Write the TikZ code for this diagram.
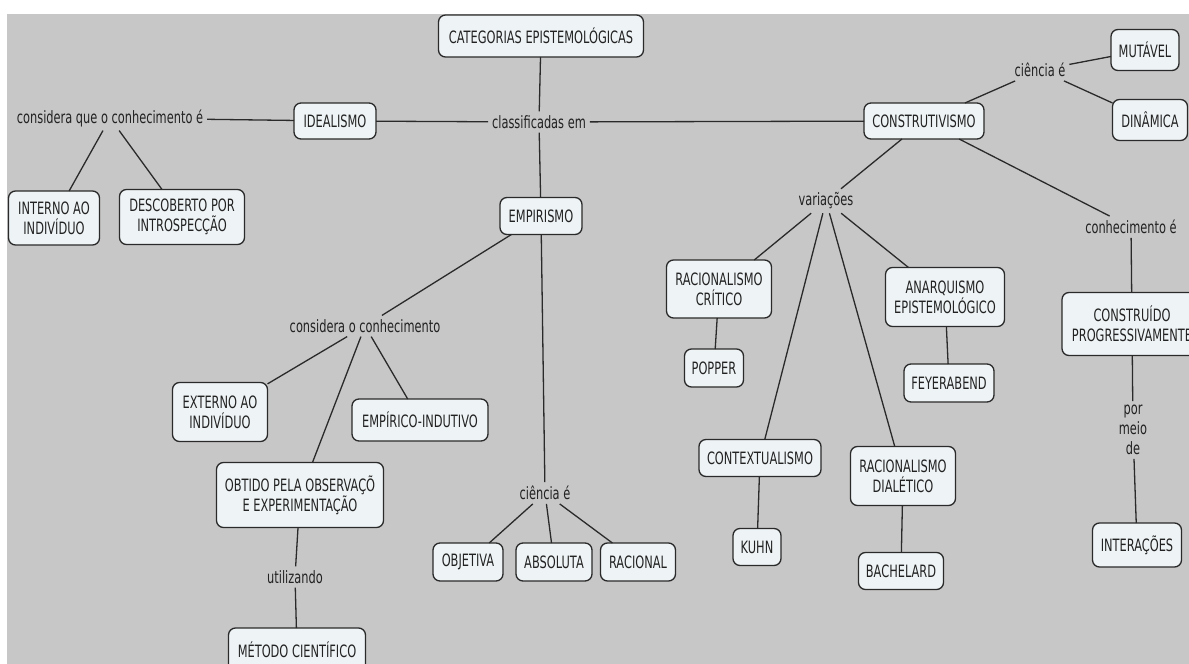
\documentclass[tikz,border=0pt]{standalone}
\usepackage{fontspec}
\setmainfont{DejaVu Sans}[FakeStretch=0.67]
\definecolor{bgray}{HTML}{C7C7C7}
\definecolor{boxfill}{HTML}{EEF3F5}
\definecolor{linecol}{HTML}{2A2A2A}
\definecolor{textcol}{HTML}{222222}
\newcommand\mapfont{\fontsize{17}{20}\selectfont}
\begin{document}
\begin{tikzpicture}[x=1pt,y=-1pt,
  concept/.style={draw=linecol, line width=1.3pt, fill=boxfill, rounded corners=7pt,
    align=center, inner sep=0pt, outer sep=0pt, font=\mapfont, text=textcol},
  phrase/.style={align=center, inner sep=2pt, outer sep=2pt, font=\mapfont, text=textcol},
  link/.style={draw=linecol, line width=1.3pt}]
\useasboundingbox (0,0) rectangle (1189,664);
\clip (0,0) rectangle (1189,664);
\fill[bgray] (7,14) rectangle (1189,664);

% top level
\node[concept, minimum width=205, minimum height=42] (cat) at (541,36) {CATEGORIAS EPISTEMOLÓGICAS};
\node[phrase] (classif) at (539,122) {classificadas em};
\node[concept, minimum width=82, minimum height=36] (ideal) at (335,121) {IDEALISMO};
\node[concept, minimum width=82, minimum height=37] (empir) at (541,216) {EMPIRISMO};
\node[concept, minimum width=120, minimum height=36] (constr) at (924,121) {CONSTRUTIVISMO};

% idealismo branch
\node[phrase] (consq) at (110,118) {considera que o conhecimento é};
\node[concept, minimum width=91, minimum height=54] (interno) at (54,218) {INTERNO AO\\INDIVÍDUO};
\node[concept, minimum width=125, minimum height=55] (descob) at (182,217) {DESCOBERTO POR\\INTROSPECÇÃO};

% empirismo branch
\node[phrase] (consconh) at (365,326) {considera o conhecimento};
\node[concept, minimum width=95, minimum height=59] (externo) at (220,412) {EXTERNO AO\\INDIVÍDUO};
\node[concept, minimum width=136, minimum height=42] (empind) at (420,420) {EMPÍRICO-INDUTIVO};
\node[concept, minimum width=167, minimum height=65] (obtido) at (300,495) {OBTIDO PELA OBSERVAÇÕ\\E EXPERIMENTAÇÃO};
\node[phrase] (utiliz) at (295,577) {utilizando};
\node[concept, minimum width=137, minimum height=44] (metodo) at (297,650) {MÉTODO CIENTÍFICO};
\node[phrase] (cienc2) at (545,493) {ciência é};
\node[concept, minimum width=70, minimum height=38] (objetiva) at (468,562) {OBJETIVA};
\node[concept, minimum width=76, minimum height=38] (absoluta) at (554,562) {ABSOLUTA};
\node[concept, minimum width=75, minimum height=38] (racional) at (638,562) {RACIONAL};

% construtivismo branch
\node[phrase] (cienc1) at (1040,70) {ciência é};
\node[concept, minimum width=68, minimum height=41] (mutavel) at (1145,50) {MUTÁVEL};
\node[concept, minimum width=75, minimum height=41] (dinamica) at (1150,120) {DINÂMICA};
\node[phrase] (variac) at (826,201) {variações};
\node[concept, minimum width=105, minimum height=58] (raccrit) at (719,289) {RACIONALISMO\\CRÍTICO};
\node[concept, minimum width=59, minimum height=38] (popper) at (714,368) {POPPER};
\node[concept, minimum width=122, minimum height=37] (context) at (760,458) {CONTEXTUALISMO};
\node[concept, minimum width=48, minimum height=37] (kuhn) at (757,547) {KUHN};
\node[concept, minimum width=119, minimum height=59] (anarq) at (945,297) {ANARQUISMO\\EPISTEMOLÓGICO};
\node[concept, minimum width=90, minimum height=38] (feyer) at (949,383) {FEYERABEND};
\node[concept, minimum width=105, minimum height=59] (racdial) at (903,476) {RACIONALISMO\\DIALÉTICO};
\node[concept, minimum width=85, minimum height=37] (bachel) at (901,571) {BACHELARD};
\node[phrase] (conhec) at (1131,227) {conhecimento é};
\node[concept, minimum width=140, minimum height=63] (construido) at (1132,324) {CONSTRUÍDO\\PROGRESSIVAMENTE};
\node[phrase] (pormeio) at (1133,430) {por\\meio\\de};
\node[concept, minimum width=89, minimum height=44] (interacoes) at (1137,545) {INTERAÇÕES};

% connectors
\draw[link] (cat) -- (classif);
\draw[link] (classif) -- (empir);
\draw[link] (ideal) -- (classif);
\draw[link] (classif) -- (constr);
\draw[link] (consq) -- (ideal);
\draw[link] (consq) -- (interno);
\draw[link] (consq) -- (descob);
\draw[link] (empir) -- (consconh);
\draw[link] (consconh) -- (externo);
\draw[link] (consconh) -- (obtido);
\draw[link] (consconh) -- (empind);
\draw[link] (obtido) -- (utiliz);
\draw[link] (utiliz) -- (metodo);
\draw[link] (empir) -- (cienc2);
\draw[link] (cienc2) -- (objetiva);
\draw[link] (cienc2) -- (absoluta);
\draw[link] (cienc2) -- (racional);
\draw[link] (constr) -- (cienc1);
\draw[link] (cienc1) -- (mutavel);
\draw[link] (cienc1) -- (dinamica);
\draw[link] (constr) -- (variac);
\draw[link] (constr) -- (conhec);
\draw[link] (variac) -- (raccrit);
\draw[link] (variac) -- (context);
\draw[link] (variac) -- (racdial);
\draw[link] (variac) -- (anarq);
\draw[link] (raccrit) -- (popper);
\draw[link] (context) -- (kuhn);
\draw[link] (anarq) -- (feyer);
\draw[link] (racdial) -- (bachel);
\draw[link] (conhec) -- (construido);
\draw[link] (construido) -- (pormeio);
\draw[link] (pormeio) -- (interacoes);
\end{tikzpicture}
\end{document}
